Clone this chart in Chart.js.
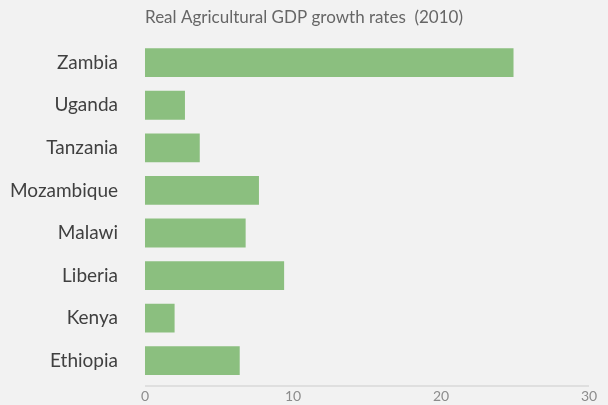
<!DOCTYPE html>
<html>
<head>
<meta charset="utf-8">
<script src="https://cdn.jsdelivr.net/npm/chart.js@4"></script>
<style>
  html, body { margin: 0; padding: 0; background: #f2f2f2; }
  #wrap { width: 608px; height: 405px; }
</style>
</head>
<body>
<div id="wrap"><canvas id="myChart"></canvas></div>
<script>
// data
const countries = ['Zambia', 'Uganda', 'Tanzania', 'Mozambique', 'Malawi', 'Liberia', 'Kenya', 'Ethiopia']
const growth = [24.9, 2.7, 3.7, 7.7, 6.8, 9.4, 2.0, 6.4]
const xTicks = [0, 10, 20, 30]

// axis line sits a few px below the bars
const axisLine = {
    id: 'axisLine',
    afterDraw(chart) {
        const c = chart.ctx
        const x = chart.scales.x
        const y = chart.chartArea.bottom + 4
        c.save()
        c.strokeStyle = '#d9d9d9'
        c.lineWidth = 1.5
        c.beginPath()
        c.moveTo(x.getPixelForValue(0), y)
        c.lineTo(x.getPixelForValue(30), y)
        c.stroke()
        c.restore()
    }
}

const ctx = document.getElementById('myChart').getContext('2d')
new Chart(ctx, {
    type: 'bar',
    data: {
        labels: countries,
        datasets: [{
            data: growth,
            backgroundColor: '#8bbf7f',
            borderWidth: 0,
            categoryPercentage: 1,
            barPercentage: 0.676
        }]
    },
    options: {
        indexAxis: 'y',
        responsive: true,
        maintainAspectRatio: false,
        animation: false,
        layout: { padding: 0 },
        plugins: {
            legend: { display: false },
            tooltip: { enabled: false },
            title: {
                display: true,
                text: 'Real Agricultural GDP growth rates  (2010)',
                color: '#666666',
                font: { family: 'Lato', size: 17, weight: 'normal' },
                padding: { top: 7, bottom: 14 }
            }
        },
        scales: {
            x: {
                min: 0,
                max: 30,
                afterBuildTicks: (scale) => { scale.ticks = xTicks.map(v => ({ value: v })) },
                afterFit: (scale) => { scale.height = 23 },
                grid: { display: false, drawTicks: false },
                border: { display: false },
                ticks: {
                    color: '#8c8c8c',
                    font: { family: 'Lato', size: 14 },
                    padding: 6
                }
            },
            y: {
                afterFit: (scale) => {
                    scale.width = 145
                    scale.paddingTop = 0
                    scale.paddingBottom = 0
                },
                grid: { display: false, drawTicks: false },
                border: { display: false },
                ticks: {
                    color: '#404040',
                    font: { family: 'Lato', size: 19 },
                    padding: 27
                }
            },
            // empty right margin so the title stays centred on the page
            yRight: {
                type: 'category',
                position: 'right',
                afterFit: (scale) => { scale.width = 19 },
                grid: { display: false, drawTicks: false },
                border: { display: false },
                ticks: { display: false }
            }
        }
    },
    plugins: [axisLine]
})
</script>
</body>
</html>
